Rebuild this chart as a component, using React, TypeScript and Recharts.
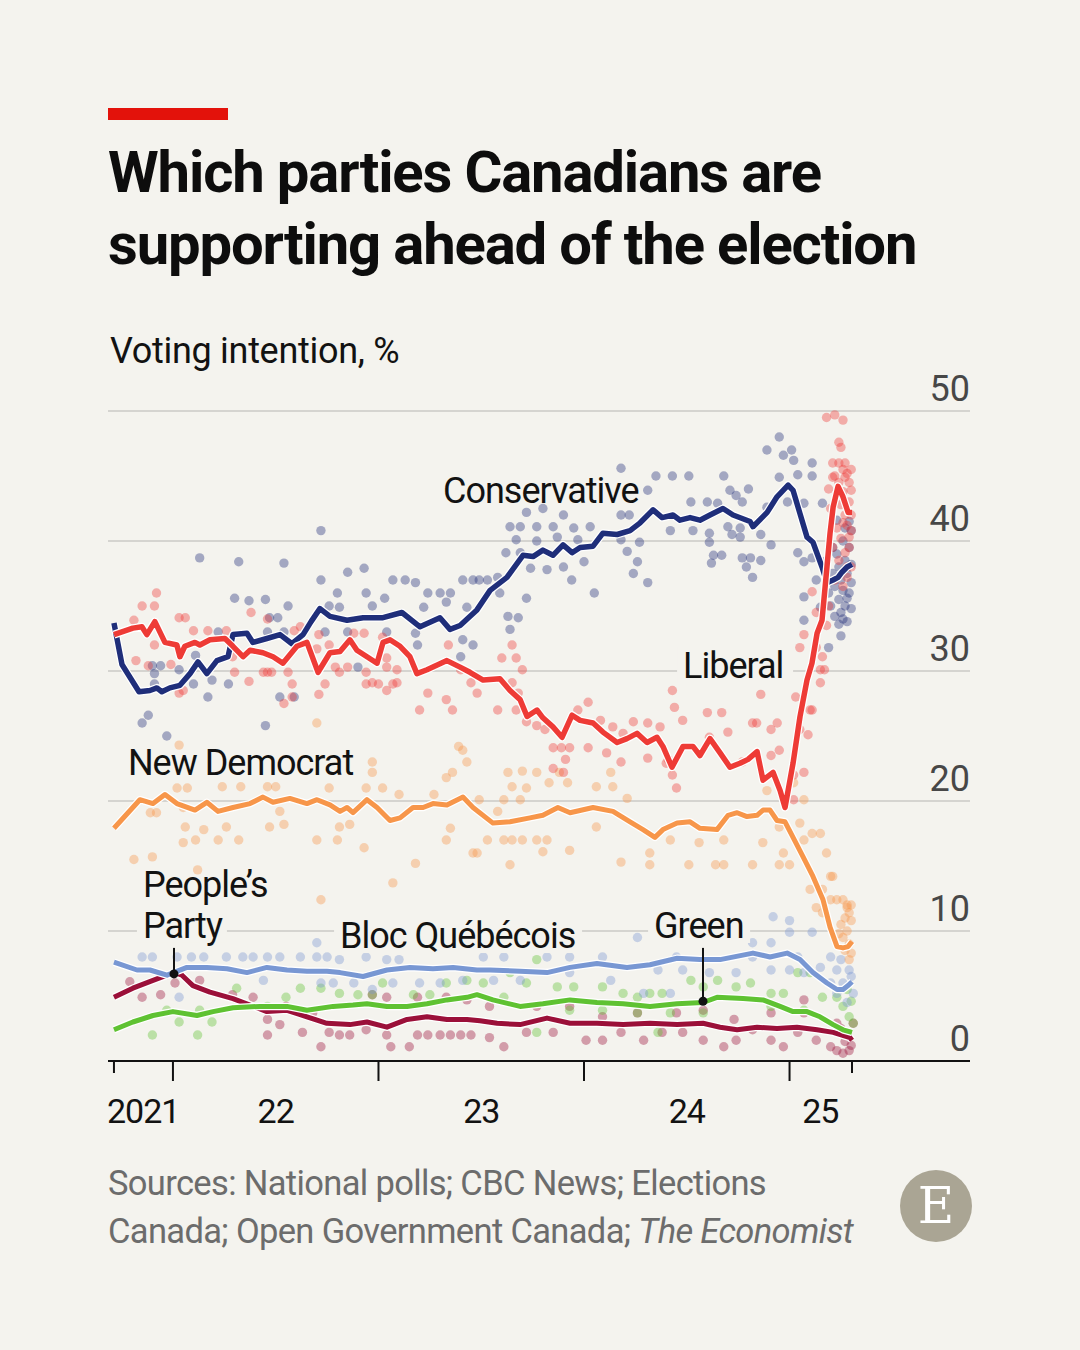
import React from 'react';
import {
  ComposedChart,
  Line,
  Scatter,
  XAxis,
  YAxis,
  CartesianGrid,
  ReferenceDot,
  ReferenceLine,
} from 'recharts';

const BG = '#f4f3ee';
const INK = '#121212';
const FONT = 'Roboto, "Noto Sans", sans-serif';

// time axis in decimal years
const X_MIN = 2021.684;
const X_MAX = 2025.878;

const yTicks = [0, 10, 20, 30, 40, 50];
const xMarks = [2021.713, 2022, 2023, 2024, 2025, 2025.304];
const xLabelAt = [2021.855, 2022.5, 2023.5, 2024.5, 2025.15];
const xLabels = ['2021', '22', '23', '24', '25'];

// smoothed poll averages [date, %]
const conLine = [
  [2021.713, 33.7], [2021.752, 30.5], [2021.835, 28.4], [2021.888, 28.5], [2021.922, 28.7], [2021.946, 28.4],
  [2021.985, 28.7], [2022.034, 28.9], [2022.083, 29.8], [2022.122, 30.7], [2022.165, 29.8], [2022.214, 30.8],
  [2022.268, 31.1], [2022.292, 32.8], [2022.360, 32.9], [2022.389, 32.2], [2022.457, 32.5], [2022.521, 32.8],
  [2022.579, 32.1], [2022.633, 32.8], [2022.672, 33.8], [2022.715, 34.8], [2022.764, 34.2], [2022.847, 33.9],
  [2022.925, 34.1], [2023.022, 34.1], [2023.114, 34.5], [2023.202, 33.4], [2023.299, 34.1], [2023.348, 33.2],
  [2023.397, 33.5], [2023.479, 34.7], [2023.543, 36.2], [2023.625, 37.2], [2023.703, 38.9], [2023.752, 38.8],
  [2023.800, 39.3], [2023.849, 38.9], [2023.898, 39.7], [2023.942, 39.1], [2023.981, 39.5], [2024.044, 39.6],
  [2024.092, 40.6], [2024.161, 40.5], [2024.224, 40.8], [2024.273, 41.4], [2024.336, 42.4], [2024.380, 41.8],
  [2024.433, 42.0], [2024.467, 41.6], [2024.516, 41.8], [2024.564, 41.6], [2024.613, 42.0], [2024.676, 42.5],
  [2024.725, 42.0], [2024.808, 41.5], [2024.822, 41.1], [2024.891, 42.2], [2024.939, 43.4], [2024.993, 44.3],
  [2025.017, 43.9], [2025.051, 42.1], [2025.085, 40.3], [2025.114, 39.9], [2025.158, 38.0], [2025.182, 36.8],
  [2025.212, 37.0], [2025.236, 37.2], [2025.255, 37.6], [2025.280, 38.0], [2025.304, 38.2],
];

const libLine = [
  [2021.713, 32.8], [2021.805, 33.3], [2021.849, 33.4], [2021.873, 32.8], [2021.912, 33.8], [2021.961, 32.2],
  [2022.019, 32.0], [2022.034, 31.1], [2022.058, 31.9], [2022.107, 32.2], [2022.131, 32.0], [2022.180, 32.4],
  [2022.253, 32.5], [2022.292, 31.9], [2022.341, 31.1], [2022.375, 31.6], [2022.438, 31.4], [2022.487, 31.1],
  [2022.535, 30.6], [2022.603, 31.9], [2022.652, 32.2], [2022.706, 29.9], [2022.764, 31.4], [2022.813, 31.5],
  [2022.861, 32.4], [2022.895, 31.6], [2022.944, 31.1], [2022.993, 30.6], [2023.022, 32.2], [2023.056, 32.4],
  [2023.105, 31.9], [2023.153, 31.1], [2023.187, 29.8], [2023.236, 30.1], [2023.333, 30.8], [2023.397, 30.3],
  [2023.445, 29.9], [2023.509, 29.3], [2023.591, 29.4], [2023.640, 28.5], [2023.689, 27.8], [2023.723, 26.5],
  [2023.771, 27.0], [2023.800, 26.4], [2023.849, 25.7], [2023.893, 24.9], [2023.942, 26.6], [2023.981, 26.2],
  [2024.044, 26.0], [2024.092, 25.3], [2024.161, 24.5], [2024.209, 24.8], [2024.258, 25.2], [2024.307, 24.5],
  [2024.355, 24.9], [2024.384, 24.2], [2024.428, 22.6], [2024.482, 24.2], [2024.530, 24.2], [2024.564, 23.5],
  [2024.613, 24.8], [2024.662, 23.7], [2024.710, 22.6], [2024.759, 22.9], [2024.798, 23.2], [2024.842, 23.8],
  [2024.871, 21.6], [2024.920, 22.2], [2024.954, 20.8], [2024.978, 19.5], [2025.017, 22.9], [2025.051, 26.5],
  [2025.085, 29.3], [2025.109, 30.6], [2025.134, 32.9], [2025.158, 33.9], [2025.182, 38.0], [2025.197, 40.6],
  [2025.212, 42.6], [2025.236, 44.2], [2025.260, 43.4], [2025.285, 42.2], [2025.304, 42.2],
];

const ndpLine = [
  [2021.713, 17.9], [2021.839, 20.1], [2021.903, 19.8], [2021.961, 20.5], [2022.019, 19.8], [2022.107, 19.3],
  [2022.165, 19.9], [2022.219, 19.2], [2022.292, 19.5], [2022.375, 19.8], [2022.438, 20.3], [2022.487, 19.9],
  [2022.569, 20.2], [2022.652, 19.8], [2022.701, 20.1], [2022.764, 19.7], [2022.813, 19.2], [2022.847, 19.5],
  [2022.876, 19.1], [2022.944, 20.1], [2022.993, 19.5], [2023.056, 18.5], [2023.105, 18.7], [2023.168, 19.5],
  [2023.217, 19.5], [2023.265, 19.8], [2023.333, 19.7], [2023.411, 20.3], [2023.460, 19.5], [2023.557, 18.3],
  [2023.640, 18.4], [2023.737, 18.7], [2023.800, 18.9], [2023.873, 19.5], [2023.932, 19.1], [2024.044, 19.5],
  [2024.141, 19.2], [2024.224, 18.4], [2024.287, 17.8], [2024.345, 17.2], [2024.384, 17.8], [2024.453, 18.3],
  [2024.516, 18.4], [2024.564, 17.9], [2024.647, 17.8], [2024.701, 18.9], [2024.745, 19.1], [2024.793, 18.8],
  [2024.842, 18.9], [2024.871, 19.3], [2024.905, 19.3], [2024.939, 18.5], [2024.978, 18.4], [2025.017, 17.2],
  [2025.066, 15.7], [2025.114, 14.2], [2025.163, 12.4], [2025.197, 10.3], [2025.231, 8.8], [2025.260, 8.7],
  [2025.285, 8.8], [2025.304, 9.2],
];

const blocLine = [
  [2021.713, 7.6], [2021.825, 7.0], [2021.888, 7.0], [2021.971, 6.6], [2022.068, 7.2], [2022.165, 7.2],
  [2022.263, 7.1], [2022.360, 6.8], [2022.457, 7.2], [2022.555, 7.0], [2022.652, 6.9], [2022.749, 6.9],
  [2022.813, 6.8], [2022.925, 6.5], [2023.041, 7.0], [2023.153, 7.2], [2023.265, 7.1], [2023.363, 7.2],
  [2023.479, 7.0], [2023.543, 7.0], [2023.689, 6.9], [2023.820, 6.8], [2023.932, 7.2], [2024.063, 7.5],
  [2024.209, 7.2], [2024.321, 7.4], [2024.453, 7.9], [2024.564, 7.8], [2024.662, 7.8], [2024.822, 8.3],
  [2024.905, 8.0], [2024.988, 8.3], [2025.051, 7.8], [2025.114, 6.8], [2025.182, 6.0], [2025.231, 5.5],
  [2025.260, 5.5], [2025.285, 5.8], [2025.304, 6.1],
];

const greenLine = [
  [2021.713, 2.4], [2021.805, 3.0], [2021.903, 3.5], [2022.000, 3.8], [2022.117, 3.5], [2022.195, 3.8],
  [2022.292, 4.1], [2022.423, 4.2], [2022.555, 4.2], [2022.652, 3.9], [2022.779, 4.2], [2022.876, 4.3],
  [2022.944, 4.4], [2023.041, 4.2], [2023.139, 4.2], [2023.236, 4.4], [2023.333, 4.7], [2023.431, 4.9],
  [2023.479, 5.1], [2023.557, 4.7], [2023.689, 4.2], [2023.800, 4.4], [2023.932, 4.7], [2024.063, 4.5],
  [2024.190, 4.4], [2024.321, 4.2], [2024.453, 4.4], [2024.579, 4.5], [2024.647, 4.9], [2024.774, 4.8],
  [2024.871, 4.7], [2024.954, 4.2], [2025.017, 3.8], [2025.085, 3.8], [2025.148, 3.4], [2025.212, 2.8],
  [2025.260, 2.4], [2025.304, 2.2],
];

const ppcLine = [
  [2021.713, 4.9], [2021.805, 5.6], [2021.903, 6.2], [2021.971, 6.6], [2022.010, 6.8], [2022.044, 6.6],
  [2022.097, 5.8], [2022.180, 5.3], [2022.292, 4.8], [2022.375, 4.3], [2022.457, 3.8], [2022.555, 3.9],
  [2022.652, 3.4], [2022.749, 2.9], [2022.861, 2.8], [2022.944, 3.0], [2023.041, 2.6], [2023.139, 3.2],
  [2023.236, 3.4], [2023.333, 3.2], [2023.431, 3.2], [2023.494, 3.1], [2023.577, 2.9], [2023.689, 2.8],
  [2023.820, 3.3], [2023.932, 2.9], [2024.063, 2.9], [2024.190, 2.8], [2024.321, 2.9], [2024.453, 2.8],
  [2024.579, 2.9], [2024.662, 2.6], [2024.745, 2.4], [2024.842, 2.6], [2024.939, 2.5], [2025.036, 2.6],
  [2025.134, 2.4], [2025.212, 2.2], [2025.294, 1.8], [2025.304, 1.6],
];

// individual polls [date, %]
const conPolls = [
  [2022.13, 38.7], [2022.32, 38.4], [2022.54, 38.3], [2022.72, 40.8], [2022.72, 37.0], [2022.85, 37.6], [2022.93, 37.9],
  [2023.07, 37.0], [2022.30, 35.6], [2022.37, 35.4], [2022.45, 35.5], [2022.56, 35.0], [2022.80, 36.0], [2022.94, 36.0],
  [2023.03, 35.6], [2022.47, 34.1], [2022.51, 34.1], [2022.76, 35.0], [2022.81, 34.9], [2022.97, 35.0], [2022.22, 33.0],
  [2022.46, 33.0], [2022.54, 33.0], [2022.74, 33.0], [2022.85, 33.0], [2023.04, 33.0], [2021.90, 30.4], [2021.94, 30.4],
  [2021.91, 29.8], [2022.03, 30.1], [2022.11, 31.2], [2022.19, 29.3], [2022.10, 29.0], [2022.27, 29.0], [2021.91, 29.0],
  [2022.17, 28.0], [2022.52, 28.0], [2022.59, 28.0], [2022.90, 30.3], [2021.85, 26.0], [2021.88, 26.6], [2021.97, 25.0],
  [2022.45, 25.8], [2024.18, 45.6], [2024.35, 45.0], [2024.43, 45.0], [2024.31, 43.9], [2023.72, 42.2], [2023.80, 42.5],
  [2023.90, 42.0], [2024.18, 42.0], [2024.22, 42.0], [2023.64, 41.1], [2023.69, 41.1], [2023.77, 41.1], [2023.85, 41.1],
  [2023.95, 41.0], [2024.03, 41.1], [2023.67, 40.1], [2023.77, 40.0], [2023.87, 40.3], [2023.97, 40.1], [2024.18, 40.1],
  [2024.27, 39.9], [2023.62, 39.1], [2023.69, 39.1], [2024.21, 39.2], [2023.74, 37.9], [2023.82, 37.8], [2023.90, 38.0],
  [2024.00, 38.4], [2024.26, 38.4], [2024.24, 37.5], [2023.94, 37.0], [2024.31, 36.8], [2024.05, 36.0], [2023.58, 37.2],
  [2023.53, 37.0], [2023.59, 36.0], [2023.72, 35.6], [2023.49, 37.0], [2023.41, 37.0], [2023.46, 37.0], [2023.13, 37.0],
  [2023.18, 36.8], [2023.24, 36.0], [2023.30, 36.0], [2023.35, 36.0], [2023.33, 35.3], [2023.43, 34.9], [2023.22, 34.9],
  [2023.63, 34.2], [2023.68, 34.1], [2023.18, 32.9], [2023.19, 32.0], [2023.41, 32.4], [2023.46, 32.0], [2023.40, 31.1],
  [2023.64, 33.2], [2024.95, 48.0], [2024.89, 47.0], [2025.01, 47.0], [2025.02, 46.2], [2025.11, 46.0], [2024.97, 46.6],
  [2024.51, 45.0], [2024.68, 45.0], [2024.95, 44.9], [2025.04, 45.1], [2025.11, 45.0], [2024.71, 43.9], [2024.80, 44.0],
  [2024.74, 43.5], [2024.52, 43.0], [2024.60, 43.0], [2024.77, 43.0], [2024.65, 42.9], [2024.89, 42.6], [2024.99, 43.0],
  [2025.07, 42.9], [2025.16, 42.9], [2024.42, 40.8], [2024.53, 40.8], [2024.61, 40.6], [2024.70, 41.1], [2024.76, 41.0],
  [2024.61, 39.9], [2024.72, 40.5], [2024.76, 40.3], [2024.86, 40.5], [2024.91, 39.7], [2024.63, 38.9], [2024.67, 38.9],
  [2024.62, 38.3], [2024.77, 38.7], [2024.81, 38.7], [2024.86, 38.5], [2024.79, 38.0], [2024.82, 37.2], [2025.04, 39.1],
  [2025.07, 38.4], [2025.11, 38.7], [2025.13, 37.0], [2025.07, 35.7], [2025.15, 34.9], [2025.07, 33.9], [2025.19, 31.8],
  [2025.25, 32.7], [2025.18, 38.5], [2025.19, 36.0], [2025.20, 35.0], [2025.21, 37.5], [2025.22, 34.2], [2025.22, 36.5],
  [2025.23, 39.0], [2025.24, 35.5], [2025.24, 38.0], [2025.25, 34.5], [2025.25, 37.0], [2025.26, 40.0], [2025.26, 36.2],
  [2025.27, 35.0], [2025.27, 38.5], [2025.28, 33.8], [2025.28, 37.5], [2025.29, 39.5], [2025.29, 36.0], [2025.30, 34.8],
  [2025.30, 38.2], [2025.30, 40.8], [2025.29, 41.5], [2025.27, 41.0], [2025.23, 41.6], [2025.21, 39.5], [2025.26, 34.0],
  [2025.30, 36.8], [2025.28, 35.6], [2025.24, 33.6],
];

const libPolls = [
  [2021.92, 36.0], [2021.85, 35.0], [2021.91, 35.0], [2021.81, 33.9], [2022.03, 34.1], [2022.06, 34.1], [2021.91, 32.0],
  [2021.82, 30.8], [2021.88, 30.4], [2022.03, 28.3], [2022.05, 28.5], [2022.38, 34.5], [2022.46, 34.0], [2022.10, 33.1],
  [2022.17, 33.1], [2022.26, 33.1], [2022.62, 33.4], [2022.59, 33.1], [2022.71, 32.8], [2022.70, 31.7], [2022.76, 32.0],
  [2022.88, 32.9], [2022.93, 32.9], [2023.02, 32.6], [2023.04, 30.3], [2022.79, 30.3], [2022.85, 30.3], [2022.94, 29.9],
  [2022.97, 29.1], [2022.94, 29.0], [2023.00, 29.0], [2023.04, 28.5], [2023.07, 29.0], [2022.81, 29.9], [2022.37, 29.2],
  [2022.58, 29.0], [2022.74, 29.0], [2022.58, 28.0], [2022.54, 27.5], [2022.71, 28.2], [2022.46, 29.9], [2022.30, 29.9],
  [2022.44, 29.9], [2022.48, 29.9], [2022.56, 29.9], [2022.29, 31.1], [2021.99, 30.5], [2023.65, 32.0], [2023.60, 31.0],
  [2023.67, 31.0], [2023.70, 30.1], [2023.65, 29.1], [2023.68, 28.3], [2023.04, 31.0], [2023.09, 30.1], [2023.34, 32.0],
  [2023.40, 30.1], [2023.45, 29.1], [2023.48, 28.3], [2023.33, 27.8], [2023.36, 27.0], [2023.20, 27.0], [2023.24, 28.3],
  [2023.09, 29.1], [2023.58, 27.0], [2023.67, 27.0], [2023.72, 26.1], [2023.77, 25.8], [2023.81, 25.5], [2023.85, 24.1],
  [2023.89, 24.1], [2023.93, 24.1], [2023.91, 23.2], [2023.97, 27.0], [2024.02, 27.6], [2024.08, 26.2], [2024.14, 25.7],
  [2024.19, 25.2], [2024.24, 26.1], [2024.31, 26.0], [2024.37, 25.7], [2024.43, 28.5], [2024.44, 27.2], [2024.02, 24.1],
  [2024.11, 23.7], [2024.18, 23.0], [2024.31, 23.3], [2023.85, 22.5], [2023.90, 22.2], [2024.40, 22.9], [2025.18, 49.5],
  [2025.22, 49.7], [2025.26, 49.3], [2025.24, 47.6], [2025.25, 47.2], [2025.21, 46.0], [2025.24, 46.0], [2025.27, 46.0],
  [2025.26, 45.5], [2025.21, 44.9], [2025.27, 44.9], [2025.29, 44.5], [2025.30, 43.9], [2025.26, 41.4], [2025.29, 40.3],
  [2025.27, 39.1], [2025.28, 38.0], [2025.11, 36.1], [2025.13, 34.5], [2025.07, 32.8], [2025.05, 31.8], [2025.13, 31.8],
  [2025.16, 31.1], [2025.15, 30.1], [2025.17, 30.1], [2025.15, 29.1], [2025.03, 28.0], [2025.10, 27.0], [2025.11, 27.0],
  [2025.09, 25.1], [2024.48, 26.2], [2024.60, 26.8], [2024.67, 26.8], [2024.61, 24.9], [2024.70, 25.3], [2024.82, 26.0],
  [2024.84, 26.0], [2024.86, 28.2], [2024.91, 25.5], [2024.94, 26.0], [2024.91, 23.5], [2024.95, 23.9], [2025.05, 25.5],
  [2025.02, 22.0], [2025.07, 22.2], [2025.02, 20.1], [2024.43, 22.0], [2024.45, 21.0], [2024.41, 23.2], [2024.77, 23.0],
  [2025.19, 44.0], [2025.20, 42.5], [2025.22, 45.0], [2025.23, 43.5], [2025.23, 41.0], [2025.24, 44.5], [2025.25, 42.8],
  [2025.25, 40.2], [2025.26, 43.8], [2025.27, 42.0], [2025.28, 45.2], [2025.28, 41.2], [2025.29, 43.0], [2025.29, 39.5],
  [2025.30, 42.0], [2025.30, 40.8], [2025.30, 45.5], [2025.21, 39.5], [2025.22, 37.0], [2025.24, 38.5], [2025.26, 36.5],
  [2025.28, 37.2], [2025.30, 38.0], [2025.19, 35.0], [2025.18, 33.5],
];

const ndpPolls = [
  [2022.03, 24.3], [2021.81, 15.5], [2021.90, 15.7], [2022.12, 14.7], [2022.72, 12.4], [2022.05, 16.8], [2022.11, 17.0],
  [2022.15, 17.8], [2022.06, 18.0], [2022.22, 17.0], [2022.32, 17.0], [2022.26, 18.0], [2022.47, 18.0], [2022.54, 18.2],
  [2022.70, 17.0], [2022.80, 17.0], [2022.93, 16.4], [2022.81, 18.0], [2022.86, 18.2], [2023.18, 15.2], [2023.07, 13.7],
  [2023.33, 17.0], [2023.35, 17.9], [2023.46, 16.0], [2021.89, 19.1], [2021.92, 19.1], [2022.05, 19.5], [2022.02, 21.0],
  [2022.07, 21.0], [2022.24, 21.1], [2022.33, 21.1], [2022.46, 21.1], [2022.50, 21.1], [2022.52, 19.2], [2022.76, 21.0],
  [2022.94, 21.0], [2022.97, 22.2], [2022.97, 23.0], [2023.02, 21.0], [2023.10, 20.5], [2023.27, 20.5], [2023.33, 21.8],
  [2023.36, 22.2], [2023.39, 24.2], [2023.41, 23.9], [2023.43, 23.0], [2022.70, 26.0], [2023.63, 22.2], [2023.70, 22.3],
  [2023.77, 22.2], [2023.83, 21.4], [2023.88, 22.2], [2023.92, 21.4], [2023.65, 21.1], [2023.72, 21.0], [2024.06, 21.1],
  [2024.13, 22.2], [2024.14, 21.1], [2024.21, 20.2], [2023.49, 20.1], [2023.61, 20.1], [2023.69, 20.1], [2023.58, 19.2],
  [2023.53, 17.0], [2023.61, 17.0], [2023.65, 17.0], [2023.70, 17.0], [2023.77, 17.0], [2023.82, 17.0], [2023.48, 16.0],
  [2023.64, 15.1], [2023.80, 16.1], [2023.93, 16.2], [2024.06, 18.0], [2024.18, 15.3], [2024.32, 16.0], [2024.32, 15.1],
  [2024.51, 15.1], [2024.64, 15.1], [2024.68, 15.1], [2024.82, 15.1], [2024.95, 15.1], [2025.00, 15.1], [2024.42, 17.0],
  [2024.56, 16.8], [2024.68, 17.0], [2024.87, 16.8], [2024.97, 16.0], [2024.95, 18.0], [2024.89, 20.8], [2025.02, 21.4],
  [2025.07, 20.1], [2025.05, 18.3], [2025.11, 17.5], [2025.15, 17.5], [2025.07, 17.0], [2025.18, 16.0], [2025.20, 14.2],
  [2025.16, 13.2], [2025.21, 14.2], [2025.20, 12.4], [2025.23, 12.4], [2025.26, 12.4], [2025.28, 11.8], [2025.29, 11.4],
  [2025.10, 13.2], [2025.13, 11.8], [2025.16, 11.4], [2025.25, 10.5], [2025.26, 9.5], [2025.27, 11.0], [2025.27, 8.5],
  [2025.28, 10.0], [2025.29, 9.0], [2025.29, 7.8], [2025.30, 10.8], [2025.30, 8.3], [2025.30, 12.0], [2025.24, 9.8],
  [2025.28, 12.0],
];

const blocPolls = [
  [2021.85, 8.0], [2021.90, 8.0], [2022.02, 8.0], [2022.09, 8.0], [2022.15, 8.0], [2022.26, 8.0], [2022.34, 8.0],
  [2022.39, 8.0], [2022.46, 8.0], [2022.52, 8.0], [2022.62, 8.0], [2022.70, 8.0], [2022.75, 8.0], [2022.81, 7.8],
  [2022.94, 8.0], [2023.04, 7.8], [2023.10, 7.8], [2022.70, 9.1], [2022.03, 4.9], [2022.44, 6.2], [2022.72, 6.0],
  [2022.78, 6.0], [2022.88, 6.0], [2022.97, 5.5], [2023.07, 6.0], [2023.20, 6.0], [2023.30, 6.0], [2023.41, 6.2],
  [2023.59, 9.9], [2023.64, 9.9], [2023.80, 10.1], [2023.88, 9.1], [2024.26, 9.5], [2024.37, 10.1], [2024.47, 10.1],
  [2024.92, 11.1], [2025.00, 10.8], [2025.11, 9.9], [2025.00, 9.9], [2024.82, 9.1], [2024.91, 9.1], [2024.09, 8.0],
  [2023.93, 8.0], [2023.82, 8.0], [2023.61, 8.0], [2023.51, 8.0], [2024.45, 8.0], [2024.82, 8.0], [2025.04, 8.0],
  [2025.20, 8.0], [2025.29, 7.0], [2025.23, 7.0], [2025.26, 6.0], [2025.20, 6.0], [2025.31, 5.2], [2025.23, 5.2],
  [2023.56, 6.2], [2023.69, 6.2], [2023.93, 6.8], [2024.13, 6.2], [2024.36, 7.0], [2024.48, 7.0], [2024.61, 6.8],
  [2024.74, 6.8], [2024.91, 7.0], [2025.00, 7.0], [2025.07, 6.8], [2025.15, 7.2], [2024.29, 5.2], [2024.42, 5.2],
  [2025.28, 4.5], [2025.30, 6.5], [2025.25, 7.8],
];

const greenPolls = [
  [2021.90, 2.0], [2022.12, 2.0], [2022.31, 5.6], [2022.03, 3.0], [2022.19, 3.0], [2022.55, 4.9], [2022.62, 5.6],
  [2022.72, 5.6], [2022.81, 5.2], [2022.90, 5.1], [2022.97, 5.1], [2023.02, 6.0], [2023.17, 5.1], [2023.25, 5.1],
  [2023.33, 6.0], [2023.43, 6.2], [2021.97, 3.9], [2022.13, 3.9], [2022.46, 4.2], [2023.77, 7.8], [2023.64, 6.8],
  [2023.51, 6.0], [2023.61, 4.9], [2023.72, 6.0], [2023.87, 5.7], [2023.95, 5.7], [2024.09, 5.7], [2024.19, 5.2],
  [2024.26, 4.9], [2024.32, 5.2], [2024.38, 5.2], [2024.52, 6.2], [2024.58, 5.7], [2024.65, 6.2], [2024.74, 5.7],
  [2024.81, 6.0], [2024.91, 5.2], [2024.97, 5.2], [2025.04, 6.8], [2025.10, 6.8], [2025.16, 4.9], [2025.23, 4.9],
  [2025.26, 4.2], [2025.29, 3.4], [2025.31, 2.9], [2023.93, 3.9], [2024.09, 3.9], [2024.26, 3.7], [2024.42, 3.7],
  [2024.58, 3.7], [2024.91, 4.2], [2025.07, 3.9], [2024.36, 2.2], [2023.77, 2.2], [2025.28, 5.5], [2025.30, 4.6],
];

const ppcPolls = [
  [2021.79, 6.1], [2021.85, 4.9], [2021.94, 5.1], [2022.01, 6.0], [2022.13, 6.2], [2022.39, 4.9], [2022.46, 3.2],
  [2022.46, 2.0], [2022.52, 2.8], [2022.63, 2.2], [2022.72, 1.1], [2022.76, 2.2], [2022.81, 2.0], [2022.86, 2.0],
  [2022.94, 2.4], [2023.04, 2.0], [2023.06, 1.1], [2023.19, 2.0], [2023.24, 2.0], [2023.30, 2.0], [2023.35, 2.0],
  [2023.40, 2.0], [2023.45, 2.0], [2023.15, 1.1], [2022.97, 5.1], [2023.04, 4.9], [2023.19, 4.9], [2023.33, 4.9],
  [2023.43, 4.7], [2022.29, 5.1], [2022.55, 4.2], [2022.68, 3.7], [2023.54, 1.8], [2023.61, 1.1], [2023.72, 2.2],
  [2023.85, 2.2], [2024.01, 1.6], [2024.09, 1.6], [2024.18, 2.2], [2024.29, 1.6], [2024.38, 2.2], [2024.48, 2.2],
  [2024.58, 1.6], [2024.68, 1.1], [2024.74, 1.6], [2024.82, 2.4], [2024.91, 1.6], [2024.97, 1.1], [2025.04, 2.2],
  [2025.13, 1.6], [2025.20, 1.1], [2025.23, 0.8], [2025.26, 0.6], [2025.29, 0.8], [2025.28, 2.2], [2025.23, 2.9],
  [2025.31, 2.9], [2023.54, 4.2], [2023.77, 4.2], [2023.93, 4.2], [2024.09, 3.4], [2024.26, 3.7], [2024.45, 3.7],
  [2024.58, 3.9], [2024.73, 3.2], [2024.91, 3.7], [2025.07, 4.7], [2025.07, 3.7], [2025.27, 1.5], [2025.30, 1.2],
  [2025.25, 2.5],
];

const pts = (rows: number[][]) => rows.map(([t, v]) => ({ t, v }));

// drawn bottom to top
const parties = [
  { name: 'ppc', color: '#9b1039', line: ppcLine, polls: ppcPolls, width: 5 },
  { name: 'green', color: '#5fc232', line: greenLine, polls: greenPolls, width: 5 },
  { name: 'bloc', color: '#7897d3', line: blocLine, polls: blocPolls, width: 5 },
  { name: 'ndp', color: '#f7964a', line: ndpLine, polls: ndpPolls, width: 5 },
  { name: 'con', color: '#1f2e7a', line: conLine, polls: conPolls, width: 5.5 },
  { name: 'lib', color: '#ee3b36', line: libLine, polls: libPolls, width: 5.5 },
];

const axisTicks = [...xMarks, ...xLabelAt].sort((a, b) => a - b);

const dot = (color: string) => (p: any) => (
  <circle cx={p.cx} cy={p.cy} r={4.7} fill={color} fillOpacity={0.38} />
);

// bottom axis: tick marks at year boundaries (long) and data ends (short), year names in between
const TimeTick = (p: any) => {
  const v = p.payload?.value ?? 0;
  const li = xLabelAt.indexOf(v);
  if (li >= 0) {
    return (
      <text x={p.x} y={p.y + 62} textAnchor="middle" fontSize={34} letterSpacing={-1} fill={INK}>
        {xLabels[li]}
      </text>
    );
  }
  const isYear = Math.abs(v - Math.round(v)) < 1e-6;
  return <line x1={p.x} x2={p.x} y1={p.y} y2={p.y + (isYear ? 20 : 12)} stroke={INK} strokeWidth={2} />;
};

const ValueLabel = (p: any) => (
  <text x={p.x} y={p.y - 10} textAnchor="end" fontSize={36} fill="#474747">
    {p.payload.value}
  </text>
);

// text annotation; optional background box behind its last line
const tag = (lines: string[], boxW = 0) => (p: any) => (
  <g>
    {boxW > 0 && (
      <rect x={p.cx - 6} y={p.cy + (lines.length - 1) * 41 - 32} width={boxW} height={37} fill={BG} />
    )}
    {lines.map((s, i) => (
      <text key={s} x={p.cx} y={p.cy + i * 41} fontSize={36} letterSpacing={-1} fill={INK}>
        {s}
      </text>
    ))}
  </g>
);

export default function App() {
  return (
    <div
      style={{
        position: 'absolute',
        left: 0,
        top: 0,
        width: 1080,
        height: 1350,
        background: BG,
        fontFamily: FONT,
        color: INK,
        overflow: 'hidden',
      }}
    >
      <div style={{ position: 'absolute', left: 0, top: 0 }}>
        <ComposedChart width={1080} height={1350} margin={{ top: 411, right: 50, bottom: 209, left: 108 }}>
          <CartesianGrid vertical={false} stroke="#d5d4d0" strokeWidth={2} />
          <XAxis
            dataKey="t"
            type="number"
            domain={[X_MIN, X_MAX]}
            ticks={axisTicks}
            interval={0}
            height={80}
            axisLine={{ stroke: INK, strokeWidth: 2 }}
            tickLine={false}
            tickSize={0}
            tickMargin={0}
            tick={<TimeTick />}
          />
          <YAxis
            dataKey="v"
            type="number"
            domain={[0, 50]}
            ticks={yTicks}
            interval={0}
            orientation="right"
            width={60}
            axisLine={false}
            tickLine={false}
            tickSize={0}
            tickMargin={0}
            tick={<ValueLabel />}
          />

          {parties.map((p) => (
            <Scatter
              key={`${p.name}-polls`}
              data={pts(p.polls)}
              dataKey="v"
              shape={dot(p.color)}
              isAnimationActive={false}
              zIndex={300}
            />
          ))}

          {parties.flatMap((p, i) => [
            <Line
              key={`${p.name}-halo`}
              data={pts(p.line)}
              dataKey="v"
              type="linear"
              stroke="#ffffff"
              strokeWidth={p.width + 2.5}
              strokeLinejoin="round"
              dot={false}
              activeDot={false}
              isAnimationActive={false}
              zIndex={401 + i * 2}
            />,
            <Line
              key={`${p.name}-line`}
              data={pts(p.line)}
              dataKey="v"
              type="linear"
              stroke={p.color}
              strokeWidth={p.width}
              strokeLinejoin="round"
              dot={false}
              activeDot={false}
              isAnimationActive={false}
              zIndex={402 + i * 2}
            />,
          ])}

          <ReferenceLine
            segment={[{ x: 2022.005, y: 6.7 }, { x: 2022.005, y: 8.7 }]}
            stroke={INK}
            strokeWidth={2}
            ifOverflow="visible"
            zIndex={2000}
          />
          <ReferenceDot x={2022.005} y={6.7} r={4.5} fill={INK} stroke="none" ifOverflow="visible" zIndex={2000} />
          <ReferenceLine
            segment={[{ x: 2024.579, y: 4.6 }, { x: 2024.579, y: 8.7 }]}
            stroke={INK}
            strokeWidth={2}
            ifOverflow="visible"
            zIndex={2000}
          />
          <ReferenceDot x={2024.579} y={4.6} r={4.5} fill={INK} stroke="none" ifOverflow="visible" zIndex={2000} />

          <ReferenceDot x={2023.314} y={42.9} r={1} shape={tag(['Conservative'])} ifOverflow="visible" zIndex={2100} />
          <ReferenceDot x={2024.482} y={29.46} r={1} shape={tag(['Liberal'], 116)} ifOverflow="visible" zIndex={2100} />
          <ReferenceDot x={2021.781} y={22.0} r={1} shape={tag(['New Democrat'])} ifOverflow="visible" zIndex={2100} />
          <ReferenceDot
            x={2021.854}
            y={12.62}
            r={1}
            shape={tag(['People\u2019s', 'Party'], 90)}
            ifOverflow="visible"
            zIndex={2100}
          />
          <ReferenceDot x={2022.813} y={8.69} r={1} shape={tag(['Bloc Québécois'], 248)} ifOverflow="visible" zIndex={2100} />
          <ReferenceDot x={2024.341} y={9.46} r={1} shape={tag(['Green'], 102)} ifOverflow="visible" zIndex={2100} />
        </ComposedChart>
      </div>

      <div style={{ position: 'absolute', left: 108, top: 108, width: 120, height: 12, background: '#e3120b' }} />
      <div
        style={{
          position: 'absolute',
          left: 108,
          top: 136,
          fontSize: 58,
          fontWeight: 700,
          lineHeight: '72px',
          letterSpacing: -1.15,
          color: '#0d0d0d',
          whiteSpace: 'nowrap',
        }}
      >
        Which parties Canadians are
        <br />
        supporting ahead of the election
      </div>
      <div
        style={{
          position: 'absolute',
          left: 110,
          top: 331,
          fontSize: 36,
          lineHeight: '40px',
          letterSpacing: -0.3,
          whiteSpace: 'nowrap',
        }}
      >
        Voting intention, %
      </div>
      <div
        style={{
          position: 'absolute',
          left: 108,
          top: 1159,
          fontSize: 34.5,
          lineHeight: '48px',
          letterSpacing: -0.65,
          color: '#6c6c6c',
          whiteSpace: 'nowrap',
        }}
      >
        Sources: National polls; CBC News; Elections
        <br />
        Canada; Open Government Canada; <i>The Economist</i>
      </div>
      <div
        style={{
          position: 'absolute',
          left: 900,
          top: 1170,
          width: 72,
          height: 72,
          borderRadius: '50%',
          background: '#aaa594',
          color: '#ffffff',
          fontFamily: '"DejaVu Serif", "Liberation Serif", serif',
          fontSize: 50,
          lineHeight: '72px',
          textAlign: 'center',
        }}
      >
        E
      </div>
    </div>
  );
}
